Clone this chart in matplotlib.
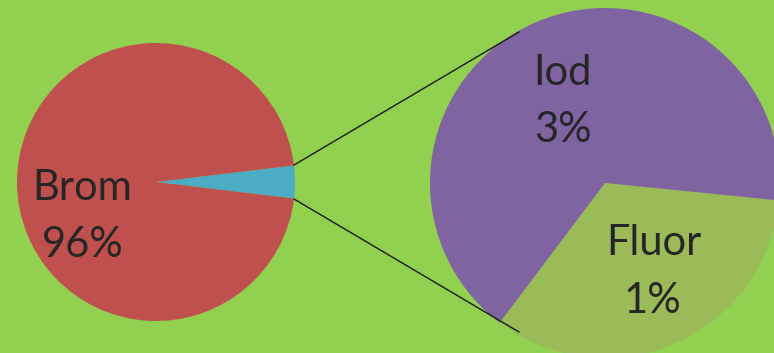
import matplotlib.pyplot as plt

# main pie: Brom vs. the rest (the rest is split in the second pie)
main_labels = ["Brom"]
main_values = [96.2]
rest_values = [2.52, 1.28]          # Iod, Fluor
rest_labels = ["Iod", "Fluor"]

W, H = 774, 353
fig = plt.figure(figsize=(W / 100, H / 100), dpi=100)
fig.patch.set_facecolor("#92D050")
ax = fig.add_axes([0, 0, 1, 1])
ax.set_facecolor("#92D050")

def py(y):
    # picture y (from top) -> data y (from bottom)
    return H - y

other = sum(rest_values)
cyan_span = other / (main_values[0] + other) * 360
ax.pie([other, main_values[0]], colors=["#4BACC6", "#C0504D"],
       startangle=-cyan_span / 2, counterclock=True,
       center=(156, py(182)), radius=139, frame=True,
       wedgeprops=dict(linewidth=0))

ax.pie([rest_values[1], rest_values[0]], colors=["#9BBB59", "#8064A2"],
       startangle=-127, counterclock=True,
       center=(605, py(183)), radius=175, frame=True,
       wedgeprops=dict(linewidth=0))

# connector lines
ax.plot([294, 519], [py(165), py(32)], color="#1a1a1a", lw=1)
ax.plot([294, 519], [py(199), py(332)], color="#1a1a1a", lw=1)

tc = "#262626"
fs = 30
fam = ["Lato", "DejaVu Sans"]
ax.text(82, py(200), main_labels[0], ha="center", va="baseline", fontsize=fs, color=tc, family=fam)
ax.text(83, py(257), f"{main_values[0]:.0f}%", ha="center", va="baseline", fontsize=fs, color=tc, family=fam)
ax.text(562, py(85), rest_labels[0], ha="center", va="baseline", fontsize=fs, color=tc, family=fam)
ax.text(563, py(142), f"{rest_values[0]:.0f}%", ha="center", va="baseline", fontsize=fs, color=tc, family=fam)
ax.text(654, py(255), rest_labels[1], ha="center", va="baseline", fontsize=fs, color=tc, family=fam)
ax.text(652, py(313), f"{rest_values[1]:.0f}%", ha="center", va="baseline", fontsize=fs, color=tc, family=fam)

ax.set_xlim(0, W)
ax.set_ylim(0, H)
ax.set_aspect("equal")
ax.axis("off")

fig.savefig("out.png", dpi=100, facecolor=fig.get_facecolor())
